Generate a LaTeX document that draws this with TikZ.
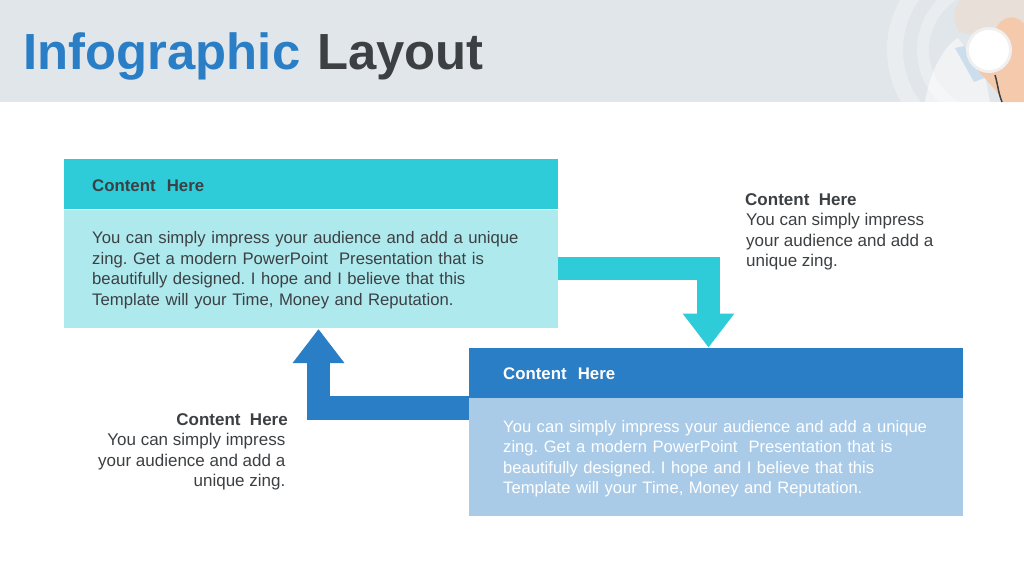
\documentclass[tikz,border=0pt]{standalone}
\usepackage{fontspec}
\setmainfont{Liberation Sans}
\usetikzlibrary{positioning,arrows.meta}

\definecolor{bannergray}{HTML}{E1E6EA}
\definecolor{titleblue}{HTML}{2A7EC6}
\definecolor{textgray}{HTML}{3D4043}
\definecolor{cyanbar}{HTML}{2ECBD9}
\definecolor{cyanbody}{HTML}{AEE9EE}
\definecolor{bluebody}{HTML}{A9CBE8}
\definecolor{skin}{HTML}{F4C9AC}
\definecolor{face}{HTML}{E8DFD8}

\newcommand{\firstline}{\rule{0pt}{15.5pt}}

\begin{document}
\frenchspacing
\begin{tikzpicture}[x=1pt, y=-1pt, node distance=0pt,
	bar node/.style={rectangle,minimum width=494pt,minimum height=50pt,inner xsep=28pt,
		text width=438pt,align=left,text height=13.7pt,text depth=0pt,font=\fontsize{16.8}{20}\selectfont\bfseries},
	body node/.style={rectangle,minimum width=494pt,minimum height=118pt,inner xsep=28pt,
		text width=438pt,align=left,font=\fontsize{16.7}{20.5}\selectfont},
	low node/.style={inner xsep=34.5pt,text width=425pt},
	note node/.style={text=textgray,inner sep=0pt,font=\fontsize{17}{20.5}\selectfont},
	flow arrow/.style={line width=23.5pt,-{Triangle[width=49.5pt,length=34pt]}}]

	\useasboundingbox (0,0) rectangle (1024,576);
	\fill[white] (0,0) rectangle (1024,576);

	% banner with the photo
	\fill[bannergray] (0,0) rectangle (1024,102);
	\begin{scope}
	  \clip (0,0) rectangle (1024,102);
	  \draw[white,opacity=.3,line width=16pt] (989,50) circle (94);
	  \draw[white,opacity=.3,line width=12pt] (989,50) circle (66);
	  \fill[face] (985,0) -- (1024,0) -- (1024,24) .. controls (1005,30) and (985,40) .. (960,32) .. controls (950,20) and (955,8) .. (960,0) -- cycle;
	  \fill[white,opacity=.5] (925,102) .. controls (930,70) and (945,45) .. (958,38) -- (985,75) -- (990,102) -- cycle;
	  \fill[bluebody,opacity=.5] (955,48) -- (964,46) -- (984,78) -- (974,82) -- cycle;
	  \fill[skin] (998,25) .. controls (1006,14) and (1018,16) .. (1024,24) -- (1024,102) -- (1003,102) .. controls (996,88) and (985,80) .. (976,68) -- cycle;
	  \draw[textgray,line width=1.5pt] (995,75) .. controls (998,85) and (998,92) .. (1002,102);
	  \fill[white!88!gray] (989,50) circle (23);
	  \fill[white] (989,50) circle (20);
	\end{scope}
	\node[anchor=base west,inner sep=0pt,font=\fontsize{50.8}{60}\selectfont\bfseries] (title) at (23.5,69)
	  {\textcolor{titleblue}{Infographic}\kern3pt{} \textcolor{textgray}{Layout}};

	% the two blocks
	\node[bar node,fill=cyanbar,text=textgray,anchor=north west] (topbar) at (64,159) {Content\ \ Here};
	\node[body node,fill=cyanbody,text=textgray,below=of topbar] (topbody)
	  {\firstline You can simply impress your audience and add a unique\\
	   zing. Get a modern PowerPoint\ \ Presentation that is\\
	   beautifully designed. I hope and I believe that this\\
	   Template will your Time, Money and Reputation.};

	\node[bar node,low node,fill=titleblue,text=white,anchor=north west] (lowbar) at (468.5,347.5) {Content\ \ Here};
	\node[body node,low node,minimum height=117.5pt,fill=bluebody,text=white,below=of lowbar,
	  font=\fontsize{16.6}{20.5}\selectfont] (lowbody)
	  {\firstline You can simply impress your audience and add a unique\\
	   zing. Get a modern PowerPoint\ \ Presentation that is\\
	   beautifully designed. I hope and I believe that this\\
	   Template will your Time, Money and Reputation.};

	% side notes
	\node[note node,anchor=north west,align=left] (rightnote) at (745,193)
	  {\textbf{Content\ \ Here}\\
	   \hspace*{1pt}You can simply impress\\
	   \hspace*{1pt}your audience and add a\\
	   \hspace*{1pt}unique zing.};
	\node[note node,anchor=north east,align=right] (leftnote) at (288,413)
	  {\textbf{Content\ \ Here}\\
	   You can simply impress\kern2.5pt\\
	   your audience and add a\kern2.5pt\\
	   unique zing.\kern2.5pt};

	% arrows
	\coordinate (toptip) at (708.5,347.5);
	\coordinate (lowstart) at (468.5,408);
	\coordinate (lowtip) at (318.5,329);
	\draw[flow arrow,draw=cyanbar] (topbody.east) -| (toptip);
	\draw[flow arrow,draw=titleblue] (lowstart) -| (lowtip);

\end{tikzpicture}
\end{document}
